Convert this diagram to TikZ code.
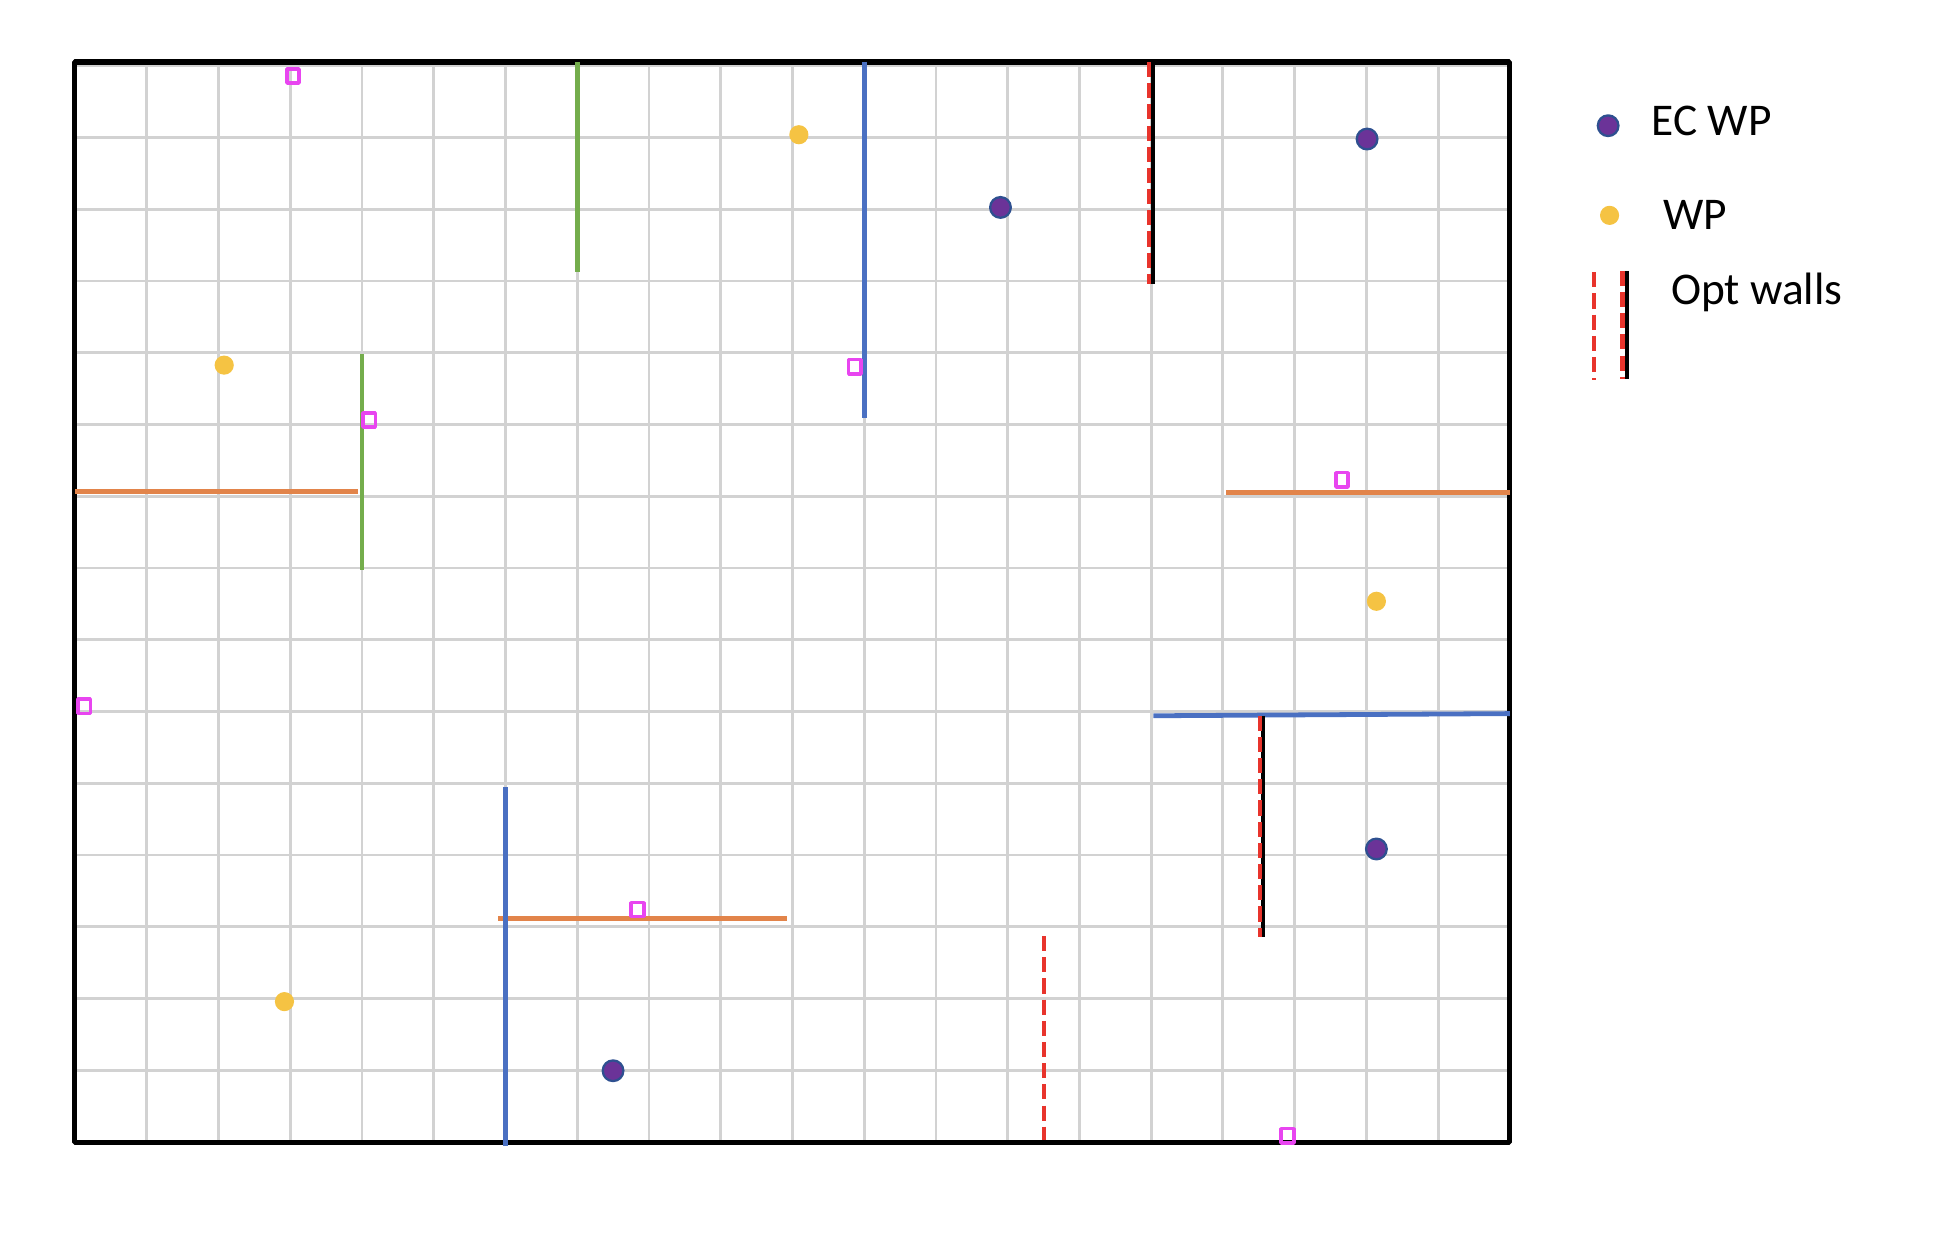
\documentclass[tikz,border=0pt]{standalone}
\usepackage{fontspec}
\setmainfont{Carlito}
\usepackage{tikz}

\definecolor{gridgray}{HTML}{D2D2D2}
\definecolor{wallorange}{HTML}{E2844A}
\definecolor{wallgreen}{HTML}{74AD4C}
\definecolor{wallblue}{HTML}{4A70C2}
\definecolor{optred}{HTML}{E8342C}
\definecolor{ecpurple}{HTML}{6B3398}
\definecolor{ecedge}{HTML}{2E5090}
\definecolor{wpyellow}{HTML}{F5C343}
\definecolor{markpink}{HTML}{E845F0}

\tikzset{
  gridline/.style={gridgray,line width=1.1pt},
  frame/.style={black,line width=2pt},
  wall/.style={line width=1.9pt},
  optwall/.style={optred,line width=1.7pt,dash pattern=on 6pt off 2.4pt},
  solidwall/.style={black,line width=1.6pt},
  ecwp/.style={circle,fill=ecpurple,draw=ecedge,line width=0.9pt,minimum size=8.2pt,inner sep=0pt},
  wp/.style={circle,fill=wpyellow,minimum size=7.6pt,inner sep=0pt},
  marker/.style={rectangle,draw=markpink,line width=1.5pt,minimum width=5pt,minimum height=5.6pt,inner sep=0pt},
  legtext/.style={font=\fontsize{18}{21}\selectfont,anchor=base west,inner sep=0pt}
}

\begin{document}
\begin{tikzpicture}[line join=bevel,x=1cm,y=1.0036cm]

\useasboundingbox (-1.045,-1.306) rectangle (25.94,15.861);

\begin{scope}

\draw[gridline] (0,0) grid (20,15);
\draw[frame] (0,0) rectangle (20,15);

\coordinate (GA1) at (7,15);
\coordinate (GA2) at (7,12.08);
\coordinate (GB1) at (4,10.94);
\coordinate (GB2) at (4,7.94);

\coordinate (BA1) at (11,15);
\coordinate (BA2) at (11,10.05);
\coordinate (BB1) at (6,4.93);
\coordinate (BB2) at (6,-0.05);
\coordinate (BC1) at (15.03,5.92);
\coordinate (BC2) at (20,5.95);

\coordinate (OA1) at (0,9.03);
\coordinate (OA2) at (3.95,9.03);
\coordinate (OB1) at (16.05,9.02);
\coordinate (OB2) at (20,9.02);
\coordinate (OC1) at (5.9,3.1);
\coordinate (OC2) at (9.92,3.1);

\draw[wall,wallgreen] (GA1)--(GA2);
\draw[wall,wallgreen] (GB1)--(GB2);

\draw[wall,wallorange] (OA1)--(OA2);
\draw[wall,wallorange] (OB1)--(OB2);
\draw[wall,wallorange] (OC1)--(OC2);

\draw[wall,wallblue] (BA1)--(BA2);
\draw[wall,wallblue] (BB1)--(BB2);
\draw[wall,wallblue] (BC1)--(BC2);

\coordinate (RA1) at (14.975,15);
\coordinate (RA2) at (14.975,11.91);
\coordinate (KA1) at (15.03,15);
\coordinate (KA2) at (15.03,11.91);

\coordinate (RB1) at (16.52,5.92);
\coordinate (RB2) at (16.52,2.85);
\coordinate (KB1) at (16.56,5.92);
\coordinate (KB2) at (16.56,2.85);

\coordinate (RC1) at (13.51,2.86);
\coordinate (RC2) at (13.51,0.03);

\draw[solidwall] (KA1)--(KA2);
\draw[optwall] (RA1)--(RA2);
\draw[solidwall] (KB1)--(KB2);
\draw[optwall] (RB1)--(RB2);
\draw[optwall] (RC1)--(RC2);

\node[ecwp] (E1) at (12.9,12.98) {};
\node[ecwp] (E2) at (18.01,13.93) {};
\node[ecwp] (E3) at (18.14,4.07) {};
\node[ecwp] (E4) at (7.5,0.99) {};

\node[wp] (W1) at (10.09,13.99) {};
\node[wp] (W2) at (2.08,10.79) {};
\node[wp] (W3) at (18.14,7.51) {};
\node[wp] (W4) at (2.92,1.95) {};

\node[marker] (M1) at (3.04,14.805) {};
\node[marker] (M2) at (4.1,10.03) {};
\node[marker] (M3) at (10.87,10.77) {};
\node[marker] (M4) at (17.66,9.2) {};
\node[marker] (M5) at (0.13,6.05) {};
\node[marker] (M6) at (7.84,3.23) {};
\node[marker] (M7) at (16.9,0.09) {};

\end{scope}

\begin{scope}

\node[ecwp] (LE) at (21.37,14.115) {};
\node[legtext] (LEt) at (21.97,13.98) {EC WP};

\node[wp] (LW) at (21.39,12.87) {};
\node[legtext] (LWt) at (22.13,12.67) {WP};

\coordinate (LR1) at (21.17,12.08);
\coordinate (LR2) at (21.17,10.58);
\coordinate (LS1) at (21.57,12.1);
\coordinate (LS2) at (21.57,10.6);
\coordinate (LK1) at (21.63,12.1);
\coordinate (LK2) at (21.63,10.6);

\draw[optwall] (LR1)--(LR2);
\draw[solidwall] (LK1)--(LK2);
\draw[optwall] (LS1)--(LS2);

\node[legtext] (LOt) at (22.24,11.625) {Opt walls};

\end{scope}

\end{tikzpicture}
\end{document}
